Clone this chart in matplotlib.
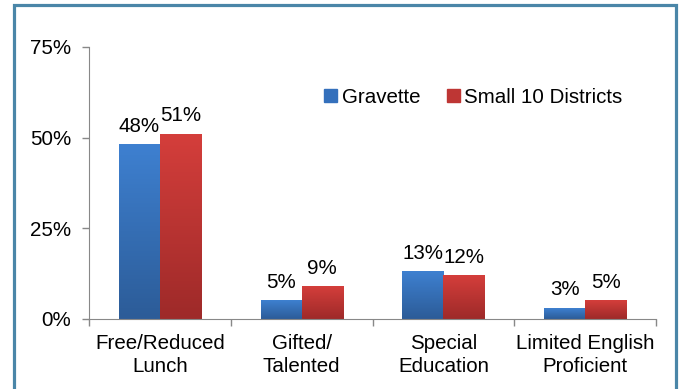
import matplotlib.pyplot as plt
import matplotlib.patches as mpatches
import numpy as np

categories = ["Free/Reduced\nLunch", "Gifted/\nTalented", "Special\nEducation", "Limited English\nProficient"]
gravette = [48, 5, 13, 3]
small10 = [51, 9, 12, 5]
series_names = ["Gravette", "Small 10 Districts"]
yticks = [0, 25, 50, 75]

plt.rcParams['font.family'] = ['Liberation Sans', 'DejaVu Sans']
fs = 14.8

fig = plt.figure(figsize=(6.8, 3.89), dpi=100)
ax = fig.add_axes([89/680, 1 - 319/389, 567/680, 272/389])

# border round the whole chart
fig.patches.append(mpatches.Rectangle((13.5/680, -0.05), (676 - 13.5)/680, 1.05 - 4.5/389,
                                      transform=fig.transFigure, fill=False,
                                      edgecolor='#4A86A8', linewidth=2.3))

w = 0.29
x = np.arange(len(categories)) + 0.5


def grad_bar(x0, h, top, bottom):
    cols = np.array([top, bottom])
    g = np.linspace(0, 1, 64)[:, None, None]
    img = cols[0] * (1 - g) + cols[1] * g
    ax.imshow(img, extent=[x0, x0 + w, 0, h], aspect='auto', origin='upper', zorder=2)


blue_top = np.array([0x3E, 0x80, 0xD0]) / 255
blue_bot = np.array([0x2C, 0x5C, 0x98]) / 255
red_top = np.array([0xD4, 0x3E, 0x3B]) / 255
red_bot = np.array([0x9E, 0x2A, 0x29]) / 255

for i in range(len(categories)):
    grad_bar(x[i] - w, gravette[i], blue_top, blue_bot)
    grad_bar(x[i], small10[i], red_top, red_bot)
    ax.text(x[i] - w / 2, gravette[i] + 2.4, f"{gravette[i]}%", ha='center', va='bottom', fontsize=fs)
    ax.text(x[i] + w / 2, small10[i] + 2.4, f"{small10[i]}%", ha='center', va='bottom', fontsize=fs)

ax.set_xlim(0, len(categories))
ax.set_ylim(0, 75)
ax.set_yticks(yticks)
ax.set_yticklabels([f"{v}%" for v in yticks], fontsize=fs)
ax.set_xticks(np.arange(len(categories) + 1))
ax.set_xticklabels([])
ax.set_xticks(x, categories, minor=True, fontsize=fs, linespacing=1.25)
ax.tick_params(axis='x', which='minor', length=0, pad=11)
ax.tick_params(axis='both', which='major', color='#888888', length=5, width=1)
ax.tick_params(axis='y', pad=8)

for s in ['top', 'right']:
    ax.spines[s].set_visible(False)
ax.spines['left'].set_color('#888888')
ax.spines['bottom'].set_color('#888888')

handles = [mpatches.Patch(color='#3470BC'), mpatches.Patch(color='#BE3634')]
ax.legend(handles, series_names, loc='center left', bbox_to_anchor=(0.382, 0.815),
          frameon=False, fontsize=fs, ncol=2, handlelength=0.65, handleheight=0.65,
          handletextpad=0.2, columnspacing=1.3)

plt.savefig("out.png", dpi=100)
